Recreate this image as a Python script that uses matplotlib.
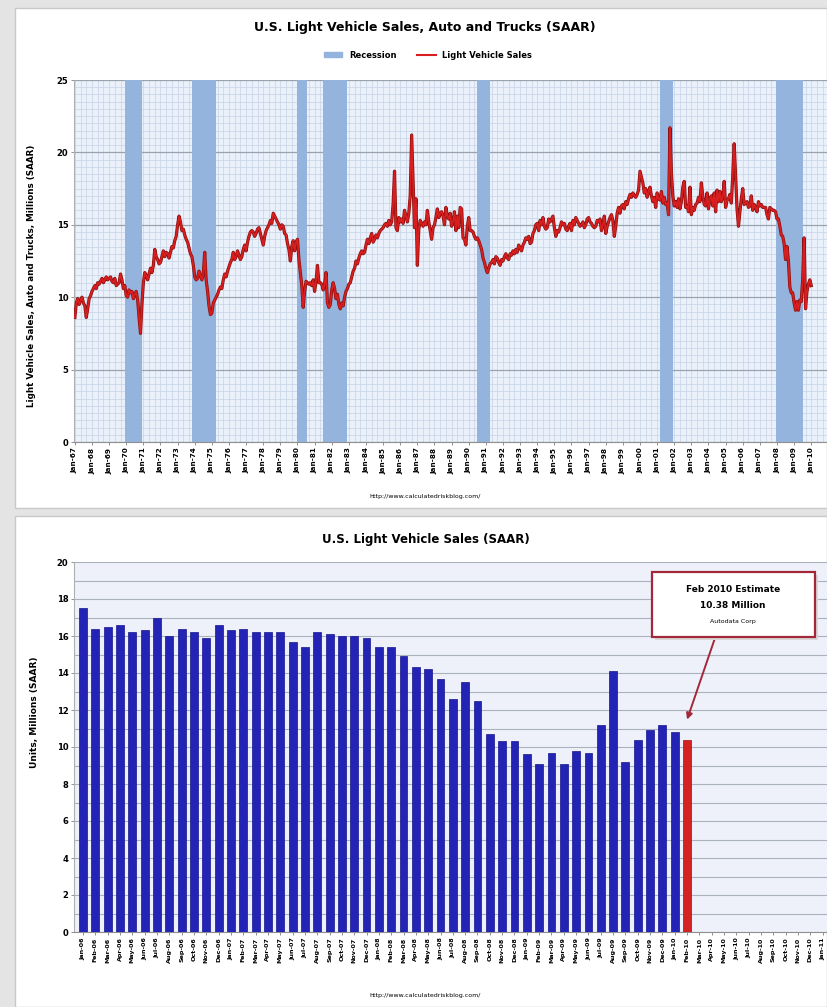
import numpy as np
import matplotlib.pyplot as plt
from matplotlib.patches import Rectangle, Patch
from matplotlib.lines import Line2D

plt.rcParams['font.family'] = ['Liberation Sans Narrow', 'DejaVu Sans']

# monthly light vehicle sales, SAAR, millions
sales_1967_69 = [8.6, 9.6, 9.9, 9.5, 9.8, 10.0, 9.6, 9.4, 8.6, 9.2, 9.9, 10.1,
                 10.4, 10.6, 10.8, 10.6, 11.0, 10.9, 11.1, 11.3, 11.0, 11.2, 11.4, 11.2,
                 11.3, 11.4, 11.1, 11.0, 11.3, 10.8, 10.9, 11.0, 11.6, 11.2, 10.6, 10.8]
sales_1970s = [10.1, 10.0, 10.5, 10.3, 10.4, 9.9, 10.2, 10.4, 9.8, 8.6, 7.5, 9.5,
               11.0, 11.7, 11.5, 11.2, 11.6, 12.0, 11.7, 12.2, 13.3, 12.8, 12.6, 12.3,
               12.4, 12.8, 13.2, 12.8, 13.1, 13.0, 12.7, 13.1, 13.5, 13.4, 13.9, 14.2,
               15.0, 15.6, 15.2, 14.6, 14.7, 14.3, 14.0, 13.8, 13.4, 13.0, 12.8, 12.2,
               11.4, 11.2, 11.3, 11.8, 11.5, 11.2, 11.6, 13.1, 11.2, 10.4, 9.4, 8.8,
               8.9, 9.6, 9.8, 10.0, 10.2, 10.5, 10.7, 10.6, 11.2, 11.6, 11.4, 11.8,
               12.1, 12.4, 12.6, 13.1, 12.6, 12.8, 13.2, 12.9, 12.6, 12.8, 13.3, 13.6,
               13.2, 13.8, 14.2, 14.5, 14.6, 14.5, 14.2, 14.4, 14.7, 14.8, 14.4, 14.0,
               13.6, 14.2, 14.6, 14.8, 15.0, 15.3, 15.1, 15.8, 15.6, 15.4, 15.2, 15.0,
               14.7, 15.0, 14.9, 14.4, 14.3, 13.7, 13.3, 12.5, 13.5, 13.9, 13.2, 13.8]
sales_1980s = [14.0, 12.6, 11.7, 10.8, 9.3, 10.4, 11.1, 11.0, 10.9, 11.0, 10.8, 11.2,
               10.4, 11.1, 12.2, 11.0, 11.0, 10.9, 10.5, 10.9, 11.7, 9.6, 9.3, 9.5,
               10.5, 11.0, 10.6, 9.9, 10.2, 9.5, 9.2, 9.6, 9.4, 10.0, 10.4, 10.6,
               10.9, 11.0, 11.4, 11.8, 12.0, 12.5, 12.3, 12.7, 13.0, 13.2, 13.0, 13.1,
               13.6, 14.0, 13.7, 14.1, 14.4, 13.8, 14.0, 14.3, 14.1, 14.4, 14.6, 14.7,
               14.8, 15.0, 15.1, 14.9, 15.3, 15.0, 15.2, 16.4, 18.7, 14.8, 14.6, 15.5,
               15.2, 15.4, 15.1, 16.0, 15.6, 15.2, 15.8, 17.0, 21.2, 17.9, 14.8, 16.8,
               12.2, 14.7, 15.3, 15.1, 14.9, 15.2, 15.0, 16.0, 15.2, 14.6, 14.0, 14.8,
               15.0, 15.5, 16.1, 15.5, 15.8, 15.9, 15.6, 15.0, 16.2, 15.6, 15.4, 15.8,
               14.9, 15.2, 15.9, 14.6, 15.6, 14.8, 16.2, 16.1, 14.1, 14.0, 13.6, 14.9]
sales_1990s = [15.5, 14.6, 14.6, 14.5, 14.2, 14.0, 14.1, 13.9, 13.6, 13.3, 12.7, 12.4,
               12.0, 11.7, 12.0, 12.3, 12.4, 12.6, 12.3, 12.8, 12.7, 12.4, 12.2, 12.6,
               12.5, 12.8, 13.0, 12.7, 12.6, 13.0, 12.9, 13.2, 13.0, 13.3, 13.1, 13.6,
               13.4, 13.2, 13.6, 13.8, 14.1, 14.0, 14.2, 13.7, 13.8, 14.4, 14.6, 15.0,
               15.1, 14.6, 15.3, 15.0, 15.5, 14.9, 14.7, 14.8, 15.4, 15.2, 15.4, 15.6,
               14.8, 14.2, 14.6, 14.5, 14.8, 15.2, 15.0, 15.1, 14.7, 14.6, 14.9, 15.1,
               14.6, 15.3, 15.0, 15.5, 15.3, 15.1, 14.9, 15.0, 15.2, 14.8, 15.0, 15.4,
               15.5, 15.2, 15.1, 14.9, 14.8, 14.9, 15.3, 15.2, 15.4, 14.6, 15.0, 15.6,
               14.4, 14.9, 15.2, 15.5, 15.7, 15.3, 14.2, 14.9, 15.8, 16.2, 15.8, 16.3,
               16.4, 16.1, 16.6, 16.4, 16.8, 17.1, 16.9, 17.2, 17.0, 16.9, 17.1, 17.4]
sales_2000s = [18.7, 18.3, 17.9, 17.2, 17.5, 16.9, 17.3, 17.6, 17.0, 16.6, 16.9, 16.2,
               17.2, 16.8, 16.7, 17.3, 16.5, 16.9, 16.4, 16.5, 15.7, 21.7, 18.6, 17.0,
               16.3, 16.6, 16.2, 16.8, 16.1, 16.6, 17.6, 18.0, 16.2, 16.3, 15.9, 17.6,
               15.7, 16.2, 16.0, 16.4, 16.5, 16.9, 16.6, 17.9, 17.0, 16.4, 16.3, 17.2,
               16.1, 16.8, 17.0, 16.3, 17.2, 15.9, 17.4, 16.6, 17.3, 16.6, 16.9, 18.0,
               16.2, 16.7, 16.8, 17.1, 16.5, 18.4, 20.6, 18.3, 16.1, 14.9, 15.9, 16.8,
               17.5, 16.4, 16.5, 16.6, 16.2, 16.3, 17.0, 16.0, 16.4, 16.2, 15.9, 16.6,
               16.3, 16.4, 16.2, 16.2, 16.2, 15.7, 15.4, 16.2, 16.1, 16.0, 16.0, 15.9,
               15.4, 15.4, 14.9, 14.3, 14.2, 13.7, 12.6, 13.5, 12.5, 10.7, 10.3, 10.3,
               9.6, 9.1, 9.7, 9.1, 9.8, 9.7, 11.2, 14.1, 9.2, 10.4, 10.9, 11.2]
sales_2010 = [10.8]

recession_start = ['1969-12', '1973-11', '1980-01', '1981-07', '1990-07', '2001-03', '2007-12']
recession_end = ['1970-11', '1975-03', '1980-07', '1982-11', '1991-03', '2001-11', '2009-06']

# Jan 2006 - Jan 2010, plus the Feb 2010 estimate
recent_sales = [17.5, 16.4, 16.5, 16.6, 16.2, 16.3, 17.0, 16.0, 16.4, 16.2, 15.9, 16.6,
                16.3, 16.4, 16.2, 16.2, 16.2, 15.7, 15.4, 16.2, 16.1, 16.0, 16.0, 15.9,
                15.4, 15.4, 14.9, 14.3, 14.2, 13.7, 12.6, 13.5, 12.5, 10.7, 10.3, 10.3,
                9.6, 9.1, 9.7, 9.1, 9.8, 9.7, 11.2, 14.1, 9.2, 10.4, 10.9, 11.2,
                10.8]
feb_2010_estimate = 10.38
month_names = ['Jan', 'Feb', 'Mar', 'Apr', 'May', 'Jun', 'Jul', 'Aug', 'Sep', 'Oct', 'Nov', 'Dec']

W, H = 827, 1007


def fig_box(x0, y0, x1, y1):
    # pixel box (top-left origin) -> figure fraction rect
    return [x0 / W, 1 - y1 / H, (x1 - x0) / W, (y1 - y0) / H]


def fx(x):
    return x / W


def fy(y):
    return 1 - y / H


def to_year(s):
    y, m = s.split('-')
    return int(y) + (int(m) - 1) / 12


fig = plt.figure(figsize=(W / 100, H / 100), dpi=100, facecolor='#e4e4e4')

# white panels
for y0, y1 in [(8, 508), (516, 1007)]:
    fig.add_artist(Rectangle((fx(15), fy(y1)), (W - 15) / W, (y1 - y0) / H,
                             transform=fig.transFigure, facecolor='white',
                             edgecolor='#c8c8c8', lw=1, zorder=-5))

blue_band = '#94b4de'
line_red = '#d81e1e'

# ---------------- top chart ----------------
sales = np.array(sales_1967_69 + sales_1970s + sales_1980s + sales_1990s + sales_2000s + sales_2010)
t = 1967 + np.arange(len(sales)) / 12

ax1 = fig.add_axes(fig_box(74, 80, W, 442))
ax1.set_facecolor('#eaf1fa')
for s, e in zip(recession_start, recession_end):
    ax1.axvspan(to_year(s), to_year(e) + 1 / 12, color=blue_band, lw=0, zorder=1)
ax1.plot(t, sales, color='#8a1010', lw=2.3, zorder=3)
ax1.plot(t, sales, color=line_red, lw=1.3, zorder=4)

years = np.arange(1967, 2011)
ax1.set_xlim(1966.95, 2010.92)
ax1.set_ylim(0, 25)
ax1.set_xticks(years)
ax1.set_xticklabels(['Jan-%02d' % (y % 100) for y in years], rotation=90,
                    fontsize=5.2, fontweight='bold')
ax1.set_xticks(np.arange(1967, 2011, 1 / 3), minor=True)
ax1.set_yticks(range(0, 26, 5))
ax1.set_yticklabels([str(v) for v in range(0, 26, 5)], fontsize=6, fontweight='bold')
ax1.set_yticks(np.arange(0, 25.1, 0.5), minor=True)
ax1.grid(which='minor', color='#c6d4e6', lw=0.5, zorder=0)
ax1.grid(which='major', axis='x', color='#c6d4e6', lw=0.5, zorder=0)
ax1.grid(which='major', axis='y', color='#9aa3ad', lw=0.9, zorder=0)
ax1.set_axisbelow(True)
ax1.tick_params(which='minor', length=0)
ax1.tick_params(which='major', length=2, width=0.6, color='#808080', pad=2)
for sp in ['top', 'right']:
    ax1.spines[sp].set_visible(False)
ax1.spines['left'].set_color('#b0b0b0')
ax1.spines['bottom'].set_color('#909090')

fig.text(fx(425), fy(28), 'U.S. Light Vehicle Sales, Auto and Trucks (SAAR)',
         ha='center', va='center', fontsize=9, fontweight='bold')
handles = [Patch(color=blue_band, label='Recession'),
           Line2D([], [], color=line_red, lw=1.5, label='Light Vehicle Sales')]
fig.legend(handles=handles, loc='center', bbox_to_anchor=(fx(428), fy(55)), ncol=2,
           frameon=False, prop={'size': 6, 'weight': 'bold'}, handlelength=2.2,
           handleheight=0.5, columnspacing=2.5)
fig.text(fx(32), fy(276), 'Light Vehicle Sales, Auto and Trucks, Millions (SAAR)',
         rotation=90, ha='center', va='center', fontsize=6.3, fontweight='bold')
fig.text(fx(425), fy(497), 'http://www.calculatedriskblog.com/', ha='center',
         va='center', fontsize=4.5)

# ---------------- bottom chart ----------------
ax2 = fig.add_axes(fig_box(74, 562, W, 932))
ax2.set_facecolor('#eef1fa')
idx = np.arange(len(recent_sales))
ax2.bar(idx, recent_sales, width=0.64, color='#2323b5', edgecolor='#15158c', lw=0.5, zorder=3)
ax2.bar(len(recent_sales), feb_2010_estimate, width=0.64, color='#d42222',
        edgecolor='#a01010', lw=0.5, zorder=3)

month_labels = ['%s-%02d' % (month_names[i % 12], 6 + i // 12) for i in range(61)]
ax2.set_xlim(-0.73, 60.35)
ax2.set_ylim(0, 20)
ax2.set_xticks(range(61))
ax2.set_xticklabels(month_labels, rotation=90, fontsize=4.6, fontweight='bold')
ax2.set_yticks(range(0, 21, 2))
ax2.set_yticklabels([str(v) for v in range(0, 21, 2)], fontsize=6, fontweight='bold')
ax2.set_yticks(range(0, 21), minor=True)
ax2.grid(which='both', axis='y', color='#aab2be', lw=0.8, zorder=0)
ax2.set_axisbelow(True)
ax2.tick_params(which='minor', length=0)
ax2.tick_params(which='major', length=2, width=0.6, color='#808080', pad=2)
for sp in ['top', 'right']:
    ax2.spines[sp].set_visible(False)
ax2.spines['left'].set_color('#b0b0b0')
ax2.spines['bottom'].set_color('#909090')

fig.text(fx(426), fy(540), 'U.S. Light Vehicle Sales (SAAR)', ha='center',
         va='center', fontsize=8.5, fontweight='bold')
fig.text(fx(34), fy(712), 'Units, Millions (SAAR)', rotation=90, ha='center',
         va='center', fontsize=6.5, fontweight='bold')
fig.text(fx(425), fy(995), 'http://www.calculatedriskblog.com/', ha='center',
         va='center', fontsize=4.5)

# annotation box + arrow
fig.add_artist(Rectangle((fx(655), fy(640)), 163 / W, 65 / H, transform=fig.transFigure,
                         facecolor='#d8d8d8', edgecolor='none', zorder=5))
fig.add_artist(Rectangle((fx(652), fy(637)), 163 / W, 65 / H, transform=fig.transFigure,
                         facecolor='white', edgecolor='#a2283a', lw=1.6, zorder=6))
fig.text(fx(733), fy(589), 'Feb 2010 Estimate', ha='center', va='center',
         fontsize=6.5, fontweight='bold', zorder=7)
fig.text(fx(733), fy(605), '10.38 Million', ha='center', va='center',
         fontsize=6.5, fontweight='bold', zorder=7)
fig.text(fx(733), fy(622), 'Autodata Corp', ha='center', va='center',
         fontsize=4.5, zorder=7)
ax2.annotate('', xy=(len(recent_sales), feb_2010_estimate + 1.1),
             xytext=(fx(715), fy(638)), textcoords='figure fraction',
             arrowprops=dict(arrowstyle='-|>', color='#a2283a', lw=1.4,
                             mutation_scale=9, shrinkA=0, shrinkB=0))

fig.savefig('out.png', dpi=100, facecolor=fig.get_facecolor())
